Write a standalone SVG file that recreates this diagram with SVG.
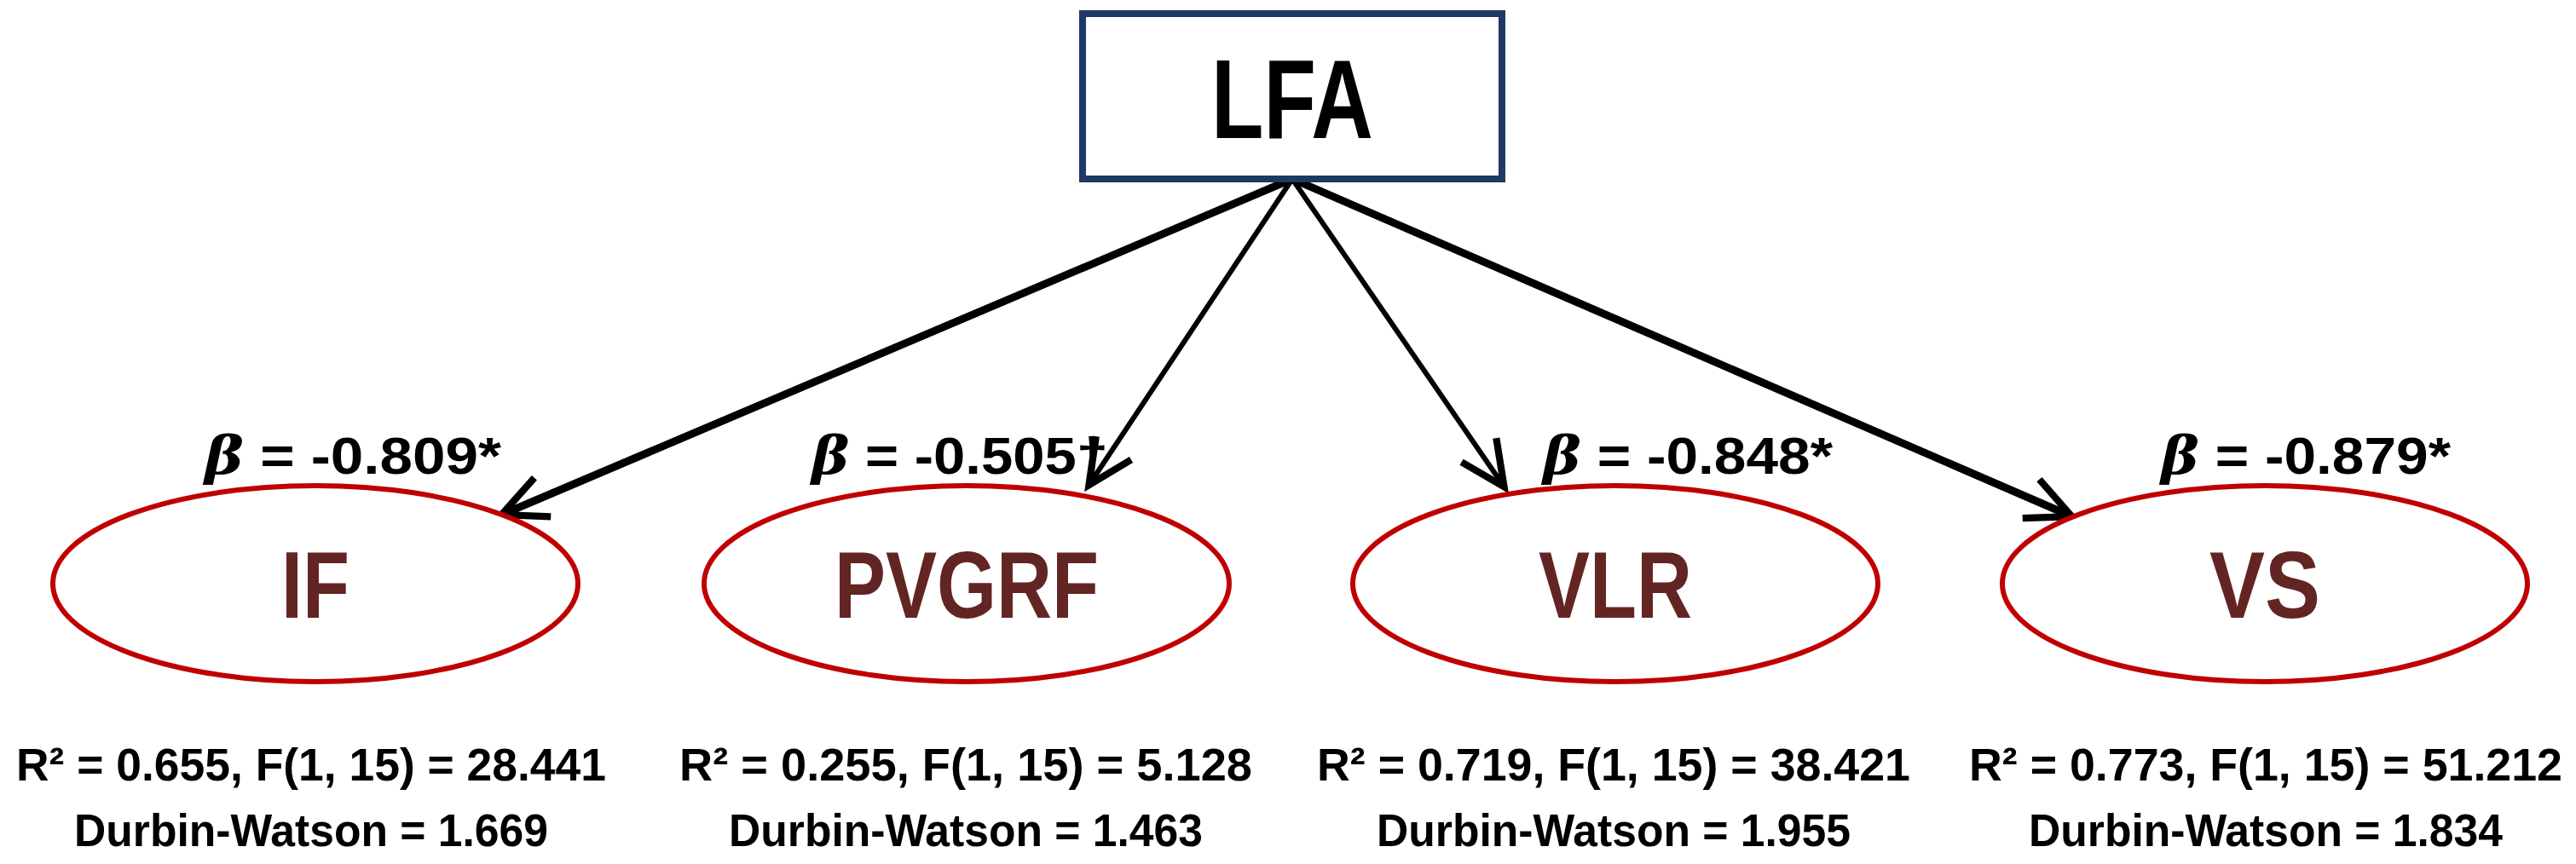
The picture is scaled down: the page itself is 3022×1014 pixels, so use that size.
<svg xmlns="http://www.w3.org/2000/svg" width="3022" height="1014" viewBox="0 0 3022 1014">
<style>
.node{fill:#fff;stroke:#c00000;stroke-width:6}
.nt{font-family:"Liberation Sans",Arial,sans-serif;font-weight:bold;font-size:112px;fill:#632523;text-anchor:middle}
.beta{font-family:"Liberation Sans",Arial,sans-serif;font-weight:bold;font-size:62px;fill:#000}
.st{font-family:"Liberation Sans",Arial,sans-serif;font-weight:bold;font-size:54px;fill:#000;text-anchor:middle}
.c{stroke:#000;fill:none;stroke-linecap:round}
</style>
<defs>
<marker id="ah" viewBox="0 0 10 10" refX="9" refY="5" markerWidth="55" markerHeight="55" markerUnits="userSpaceOnUse" orient="auto" overflow="visible">
<path d="M0,0.5 L9.5,5 L0,9.5" fill="none" stroke="#000" stroke-width="1.5" stroke-linejoin="miter"/>
</marker>
</defs>
<rect width="3022" height="1014" fill="#fff"/>
<g id="connectors">
<line class="c" x1="1516" y1="210" x2="591" y2="603" stroke-width="9" marker-end="url(#ah)"/>
<line class="c" x1="1516" y1="210" x2="1279" y2="567" stroke-width="6" marker-end="url(#ah)"/>
<line class="c" x1="1516" y1="210" x2="1763" y2="569" stroke-width="6" marker-end="url(#ah)"/>
<line class="c" x1="1516" y1="210" x2="2428" y2="605" stroke-width="9" marker-end="url(#ah)"/>
</g>
<g id="LFA">
<rect x="1270" y="16" width="492" height="194" fill="#fff" stroke="#1f3864" stroke-width="8"/>
<text x="1516" y="162" font-family="Liberation Sans,Arial,sans-serif" font-weight="bold" font-size="132" fill="#000" text-anchor="middle" textLength="190" lengthAdjust="spacingAndGlyphs">LFA</text>
</g>
<g id="IF">
<ellipse class="node" cx="370" cy="685" rx="308" ry="115"/>
<text class="nt" x="370" y="725" textLength="80" lengthAdjust="spacingAndGlyphs">IF</text>
<text class="beta" x="240" y="556" textLength="348" lengthAdjust="spacingAndGlyphs"><tspan font-style="italic" font-family="DejaVu Serif,serif">β</tspan> = -0.809*</text>
<text class="st" x="365" y="916" textLength="692" lengthAdjust="spacingAndGlyphs">R² = 0.655, F(1, 15) = 28.441</text>
<text class="st" x="365" y="993" textLength="556" lengthAdjust="spacingAndGlyphs">Durbin-Watson = 1.669</text>
</g>
<g id="PVGRF">
<ellipse class="node" cx="1134" cy="685" rx="308" ry="115"/>
<text class="nt" x="1134" y="725" textLength="310" lengthAdjust="spacingAndGlyphs">PVGRF</text>
<text class="beta" x="952" y="556" textLength="348" lengthAdjust="spacingAndGlyphs"><tspan font-style="italic" font-family="DejaVu Serif,serif">β</tspan> = -0.505†</text>
<text class="st" x="1133" y="916" textLength="672" lengthAdjust="spacingAndGlyphs">R² = 0.255, F(1, 15) = 5.128</text>
<text class="st" x="1133" y="993" textLength="556" lengthAdjust="spacingAndGlyphs">Durbin-Watson = 1.463</text>
</g>
<g id="VLR">
<ellipse class="node" cx="1895" cy="685" rx="308" ry="115"/>
<text class="nt" x="1895" y="725" textLength="180" lengthAdjust="spacingAndGlyphs">VLR</text>
<text class="beta" x="1810" y="556" textLength="340" lengthAdjust="spacingAndGlyphs"><tspan font-style="italic" font-family="DejaVu Serif,serif">β</tspan> = -0.848*</text>
<text class="st" x="1893" y="916" textLength="696" lengthAdjust="spacingAndGlyphs">R² = 0.719, F(1, 15) = 38.421</text>
<text class="st" x="1893" y="993" textLength="556" lengthAdjust="spacingAndGlyphs">Durbin-Watson = 1.955</text>
</g>
<g id="VS">
<ellipse class="node" cx="2657" cy="685" rx="308" ry="115"/>
<text class="nt" x="2657" y="725" textLength="130" lengthAdjust="spacingAndGlyphs">VS</text>
<text class="beta" x="2535" y="556" textLength="340" lengthAdjust="spacingAndGlyphs"><tspan font-style="italic" font-family="DejaVu Serif,serif">β</tspan> = -0.879*</text>
<text class="st" x="2658" y="916" textLength="696" lengthAdjust="spacingAndGlyphs">R² = 0.773, F(1, 15) = 51.212</text>
<text class="st" x="2658" y="993" textLength="556" lengthAdjust="spacingAndGlyphs">Durbin-Watson = 1.834</text>
</g>
</svg>
